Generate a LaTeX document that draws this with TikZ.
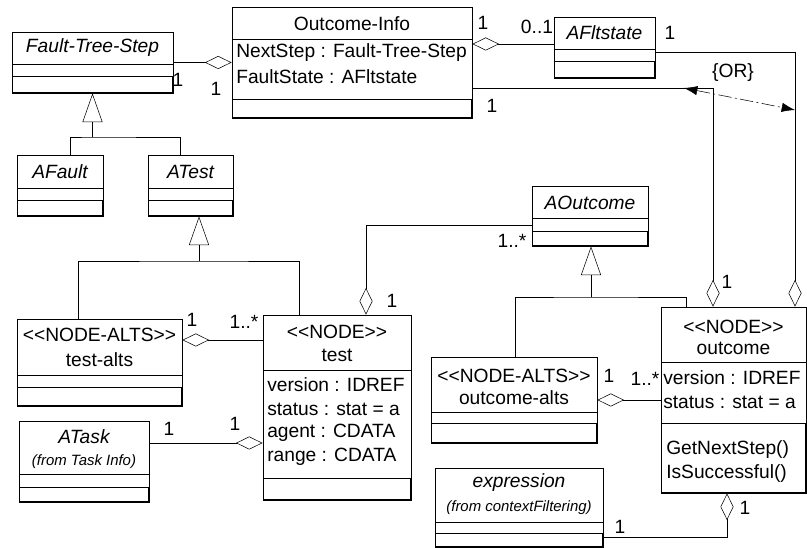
\documentclass[tikz,border=0pt]{standalone}
\usepackage{fontspec}
\setmainfont{Liberation Sans}[Ligatures=TeXOff]
\usetikzlibrary{arrows.meta,fit}

\tikzset{
  x=0.75pt, y=-0.75pt,
  line width=0.6pt,
  boxframe/.style={draw, line width=0.6pt, inner sep=0pt},
  lbl/.style={inner sep=0pt, font=\fontsize{14.4pt}{16pt}\selectfont},
  title/.style={lbl, font=\fontsize{14.4pt}{16pt}\selectfont\itshape},
  attr/.style={lbl, anchor=west},
  note/.style={inner sep=0pt, font=\fontsize{11.2pt}{12pt}\selectfont\itshape},
  aggend/.style={-{Diamond[open,length=20pt,width=9.75pt]}},
  aggstart/.style={{Diamond[open,length=20pt,width=9.75pt]}-},
  gen/.style={-{Triangle[open,length=21.5pt,width=15pt]}},
  orline/.style={{Latex[length=10pt,width=7pt]}-{Latex[length=10pt,width=7pt]},
    dash pattern=on 10pt off 2.5pt on 1.5pt off 2.5pt},
}

% class box: name, x1, y1, x2, y2, first divider, second divider
\newcommand\classbox[7]{%
  \node[boxframe, fit={(#2,#3) (#4,#5)}] (#1) {};
  \draw (#2,#6) -- (#4,#6);
  \draw (#2,#7) -- (#4,#7);
  \draw[line width=1.3pt] (#2,#5) -- (#4,#5) -- (#4,#7);
}

\begin{document}
\begin{tikzpicture}
\useasboundingbox (0,0) rectangle (807,548);

% ---------- classes ----------
\classbox{fts}{12}{32}{173}{93}{64}{76}
\node[title] at (92.5,48) {Fault-Tree-Step};

\classbox{oi}{232}{7}{472}{118}{39}{99}
\node[lbl] at (352,24) {Outcome-Info};
\node[attr] at (236,53) {NextStep : Fault-Tree-Step};
\node[attr] at (236,77) {FaultState : AFltstate};

\classbox{afs}{554}{17}{655}{78}{49}{61}
\node[title] at (604.5,33) {AFltstate};

\classbox{afault}{17}{155}{103}{216}{188}{200}
\node[title] at (60,172) {AFault};

\classbox{atest}{148}{155}{233}{216}{188}{200}
\node[title] at (190.5,172) {ATest};

\classbox{aout}{532}{186}{648}{246}{218}{231}
\node[title] at (590,203) {AOutcome};

\classbox{talts}{17}{319}{182}{406}{375}{387}
\node[lbl] at (99.5,335) {<<NODE-ALTS>>};
\node[lbl] at (99.5,360) {test-alts};

\classbox{test}{263}{315}{411}{500}{370}{478}
\node[lbl] at (337,332) {<<NODE>>};
\node[lbl] at (337,355) {test};
\node[attr] at (267,385) {version : IDREF};
\node[attr] at (267,409) {status : stat = a};
\node[attr] at (267,433) {agent : CDATA};
\node[attr] at (267,457) {range : CDATA};

\classbox{atask}{19}{421}{149}{502}{474}{487}
\node[title] at (84,437) {ATask};
\node[note] at (84,462) {(from Task Info)};

\classbox{oalts}{431}{357}{597}{443}{412}{423}
\node[lbl] at (514,376) {<<NODE-ALTS>>};
\node[lbl] at (514,398) {outcome-alts};

\classbox{outc}{661}{307}{806}{493}{362}{423}
\node[lbl] at (733.5,327) {<<NODE>>};
\node[lbl] at (733.5,348) {outcome};
\node[attr] at (663,378) {version : IDREF};
\node[attr] at (663,402) {status : stat = a};
\node[attr] at (666,450) {GetNextStep()};
\node[attr] at (666,474) {IsSuccessful()};

\classbox{expr}{435}{468}{603}{547}{522}{533}
\node[title] at (519,483) {expression};
\node[note] at (519,508) {(from contextFiltering)};

% ---------- associations ----------
\draw[aggend] (fts.east) -- (oi.west);
\node[lbl] at (178,80) {1};
\node[lbl] at (216,89) {1};

\draw[aggstart] ([shift={(0,-18.5)}]oi.east) -- ([shift={(0,-3.5)}]afs.west);
\node[lbl] at (483,23) {1};
\node[lbl] at (537,27) {0..1};

\draw[aggend] ([shift={(0,4.5)}]afs.east) -| ([shift={(61.5,0)}]outc.north);
\node[lbl] at (670,33) {1};

\draw[aggend] ([shift={(0,25.5)}]oi.east) -| ([shift={(-20.5,0)}]outc.north);
\node[lbl] at (492,106) {1};
\node[lbl] at (727,282) {1};

% {OR} constraint between the two associations
\coordinate (orA) at (684,88);
\coordinate (orB) at (795,110);
\draw[orline] (orA) -- (orB);
\node[lbl] at (733,73) {\{OR\}};

\draw[aggstart] ([shift={(0,-22.5)}]talts.east) -- ([shift={(0,-67.5)}]test.west);
\node[lbl] at (192,320) {1};
\node[lbl] at (244,322) {1..*};

\draw[aggend] ([shift={(0,-18.5)}]atask.east) -- ([shift={(0,35.5)}]test.west);
\node[lbl] at (169,429) {1};
\node[lbl] at (235,424) {1};

\draw[aggstart] ([shift={(29,0)}]test.north) |- ([shift={(0,9)}]aout.west);
\node[lbl] at (392,301) {1};
\node[lbl] at (512,241) {1..*};

\draw[aggstart] (oalts.east) -- (outc.west);
\node[lbl] at (609,376) {1};
\node[lbl] at (645,379) {1..*};

\draw[aggstart] ([shift={(-6.5,0)}]outc.south) |- ([shift={(0,29.5)}]expr.east);
\node[lbl] at (745,508) {1};
\node[lbl] at (620,527) {1};

% ---------- generalizations ----------
\coordinate (j1) at (92.5,137);
\draw ([shift={(10,0)}]afault.north) |- (j1) -| ([shift={(-10.5,0)}]atest.north);
\draw[gen] (j1) -- (fts.south);

\coordinate (j2) at (199,261);
\draw ([shift={(-21.5,0)}]talts.north) |- (j2) -| ([shift={(-38,0)}]test.north);
\draw[gen] (j2) -- (atest.south -| j2);

\coordinate (j3) at (591,297);
\draw ([shift={(1,0)}]oalts.north) |- (j3) -| ([shift={(-47.5,0)}]outc.north);
\draw[gen] (j3) -- (aout.south -| j3);
\end{tikzpicture}
\end{document}
